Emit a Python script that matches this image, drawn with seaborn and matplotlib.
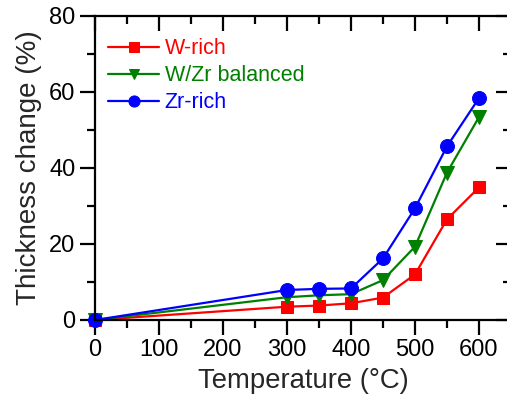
import matplotlib
matplotlib.use("Agg")
import matplotlib.pyplot as plt
from matplotlib.ticker import MultipleLocator
import seaborn as sns
import pandas as pd

sns.set_theme(style="ticks")
plt.rcParams["font.family"] = ["Liberation Sans", "DejaVu Sans"]

temperature = [0, 300, 350, 400, 450, 500, 550, 600]
w_rich = [0, 3.5, 3.8, 4.4, 5.9, 12.0, 26.5, 34.9]
balanced = [0, 6.0, 6.5, 6.8, 10.5, 19.3, 38.8, 53.4]
zr_rich = [0, 7.9, 8.2, 8.3, 16.2, 29.4, 45.7, 58.4]

series_names = ["W-rich", "W/Zr balanced", "Zr-rich"]
series_values = [w_rich, balanced, zr_rich]
colors = ["#ff0000", "#008000", "#0000ff"]
markers = ["s", "v", "o"]
marker_sizes = [8.5, 9.5, 10]

fig = plt.figure(figsize=(5.07, 4.01), dpi=100)
ax = fig.add_axes([95 / 507, 1 - 320 / 401, 416 / 507, 304 / 401])

for name, vals, c, m, ms in zip(series_names, series_values, colors, markers, marker_sizes):
    df = pd.DataFrame({"T": temperature, "v": vals})
    sns.lineplot(data=df, x="T", y="v", ax=ax, color=c, marker=m, markersize=ms,
                 markeredgecolor=c, linewidth=1.6, label=name, clip_on=False)

ax.set_xlim(0, 650)
ax.set_ylim(0, 80)
ax.xaxis.set_major_locator(MultipleLocator(100))
ax.xaxis.set_minor_locator(MultipleLocator(50))
ax.yaxis.set_major_locator(MultipleLocator(20))
ax.yaxis.set_minor_locator(MultipleLocator(10))
ax.set_xticks([0, 100, 200, 300, 400, 500, 600])

for s in ax.spines.values():
    s.set_linewidth(1.6)
    s.set_color("black")

ax.tick_params(which="major", direction="out", length=11, width=1.6,
               labelsize=17, colors="black", pad=3)
ax.tick_params(which="minor", direction="out", length=6, width=1.6, colors="black")
ax.tick_params(which="both", top=True, right=True)

# Mirrored ticks on the top and right point into the plot
for tick in ax.xaxis.get_major_ticks() + ax.xaxis.get_minor_ticks():
    tick.tick2line.set_marker(matplotlib.lines.TICKDOWN)
for tick in ax.yaxis.get_major_ticks() + ax.yaxis.get_minor_ticks():
    tick.tick2line.set_marker(matplotlib.lines.TICKLEFT)

ax.set_xlabel("Temperature (°C)", fontsize=19.8, labelpad=5)
ax.set_ylabel("Thickness change (%)", fontsize=20, labelpad=5)

leg = ax.legend(loc="upper left", frameon=False, fontsize=15.5, handlelength=2.4,
                handletextpad=0.25, labelspacing=0.28, borderaxespad=0.0,
                markerscale=0.8, bbox_to_anchor=(0.01, 0.955))
for text, c in zip(leg.get_texts(), colors):
    text.set_color(c)

fig.savefig("out.png", dpi=100)
